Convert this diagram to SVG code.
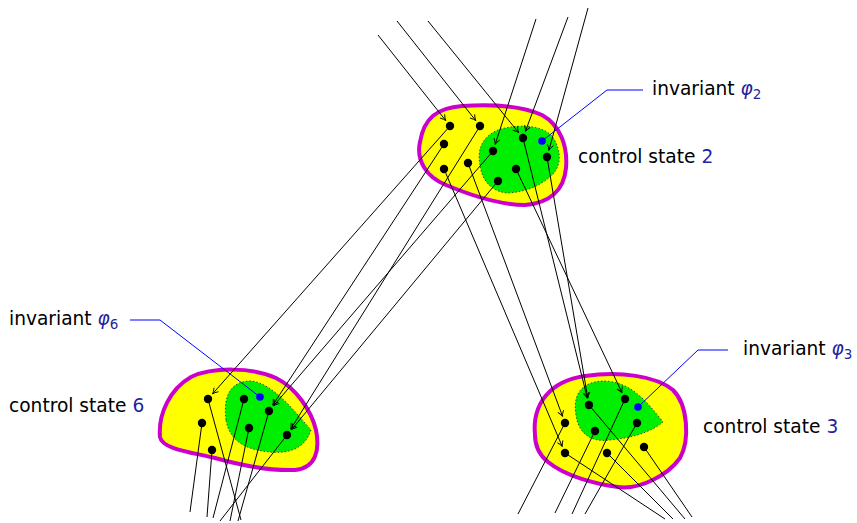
<svg xmlns="http://www.w3.org/2000/svg" width="857" height="523" viewBox="0 0 857 523">
<defs>
<marker id="arr" markerWidth="10" markerHeight="10" refX="0" refY="0" viewBox="-7 -5 9 10" orient="auto" markerUnits="userSpaceOnUse">
<path d="M-5.5,-3 Q-2,-0.5 0,0 Q-2,0.5 -5.5,3" fill="none" stroke="#000" stroke-width="0.9"/>
</marker>
</defs>
<style>
.outer{fill:#ffff00;stroke:#cc00cc;stroke-width:4}
.inner{fill:#00ee00;stroke:#1a4d1a;stroke-width:0.9;stroke-dasharray:1.5 2}
.dot{fill:#000}
.bdot{fill:#0000ff}
.e{stroke:#000;stroke-width:1;fill:none}
.ea{stroke:#000;stroke-width:1;fill:none;marker-end:url(#arr)}
.lead{stroke:#0000ff;stroke-width:1;fill:none}
text{font-family:"DejaVu Sans","Liberation Sans",sans-serif;font-size:18.6px;fill:#000}
.num{fill:#1f1fa0}
.phi{fill:#1f1fa0;font-style:italic}
.sub{fill:#1f1fa0;font-size:13.5px}
</style>

<g id="node-state2">
<path class="outer" d="M420,142 C424,118 437,108 462,106 C492,104 522,106 542,115 C560,125 568,146 566,168 C564,190 550,203 525,205 C500,205 470,195 446,185 C426,177 416,160 420,142 Z"/>
<path class="inner" d="M480,165 C476,146 486,132 505,128 C525,124 546,126 554,139 C561,151 562,166 551,176 C540,186 525,192 508,193 C492,192 482,181 480,165 Z"/>
</g>
<g id="node-state6">
<path class="outer" d="M160,437 C158,414 170,389 191,377 C212,367 252,367 276,378 C296,388 311,410 316,430 C320,450 316,468 295,470 C270,471 240,465 215,458 C190,452 162,449 160,437 Z"/>
<path class="inner" d="M226,420 C223,395 231,381 251,381 C272,383 293,409 311,430 C305,448 290,454 270,452 C250,450 230,444 226,420 Z"/>
</g>
<g id="node-state3">
<path class="outer" d="M535,435 C532,404 550,381 585,376 C620,371 656,376 673,390 C688,405 690,440 680,458 C668,475 640,490 618,487 C595,484 565,476 548,462 C538,454 535,445 535,435 Z"/>
<path class="inner" d="M576,415 C572,391 585,381 605,381 C630,382 646,400 663,422 C650,433 630,438 610,440 C590,443 578,432 576,415 Z"/>
</g>

<g id="connectors">
<line class="ea" x1="378" y1="35" x2="445.7" y2="120.5"/>
<line class="ea" x1="397" y1="21" x2="475.7" y2="120.5"/>
<line class="ea" x1="428" y1="21" x2="518.6" y2="132.6"/>
<line class="ea" x1="536" y1="19" x2="495.2" y2="144.3"/>
<line class="ea" x1="568" y1="17" x2="525.4" y2="131.4"/>
<line class="ea" x1="588" y1="8" x2="548.9" y2="150.3"/>
<line class="ea" x1="450" y1="126" x2="212.6" y2="393.8"/>
<line class="ea" x1="444" y1="144" x2="272.8" y2="405.1"/>
<line class="ea" x1="493" y1="151" x2="273.6" y2="405.7"/>
<line class="ea" x1="480" y1="126" x2="290.7" y2="429.1"/>
<line class="ea" x1="498" y1="181" x2="291.5" y2="429.6"/>
<line class="ea" x1="444" y1="169" x2="562.3" y2="446.6"/>
<line class="ea" x1="468" y1="163" x2="562.6" y2="416.4"/>
<line class="ea" x1="523" y1="138" x2="587.3" y2="398.2"/>
<line class="ea" x1="547" y1="157" x2="587.8" y2="398.1"/>
<line class="ea" x1="516" y1="169" x2="622" y2="392.7"/>
<line class="e" x1="202" y1="423" x2="190" y2="512"/>
<line class="e" x1="212" y1="450" x2="207" y2="517"/>
<line class="e" x1="244" y1="399" x2="213" y2="518"/>
<line class="e" x1="249" y1="428" x2="230" y2="521"/>
<line class="e" x1="269" y1="411" x2="238" y2="521"/>
<line class="e" x1="287" y1="435" x2="220" y2="521"/>
<line class="e" x1="208" y1="399" x2="241" y2="520"/>
<line class="e" x1="565" y1="423" x2="518" y2="514"/>
<line class="e" x1="595" y1="431" x2="555" y2="513"/>
<line class="e" x1="625" y1="399" x2="572" y2="514"/>
<line class="e" x1="637" y1="423" x2="585" y2="514"/>
<line class="e" x1="565" y1="453" x2="665" y2="519"/>
<line class="e" x1="607" y1="453" x2="673" y2="519"/>
<line class="e" x1="589" y1="405" x2="685" y2="519"/>
<line class="e" x1="644" y1="447" x2="692" y2="517"/>
<polyline class="lead" points="542,141 607,90 643,90"/>
<polyline class="lead" points="130,320 160,320 260,397"/>
<polyline class="lead" points="728,350 698,350 638,407"/>
</g>

<g id="dots-state2">
<circle class="dot" cx="450" cy="126" r="4.2"/>
<circle class="dot" cx="480" cy="126" r="4.2"/>
<circle class="dot" cx="444" cy="144" r="4.2"/>
<circle class="dot" cx="444" cy="169" r="4.2"/>
<circle class="dot" cx="468" cy="163" r="4.2"/>
<circle class="dot" cx="493" cy="151" r="4.2"/>
<circle class="dot" cx="523" cy="138" r="4.2"/>
<circle class="dot" cx="547" cy="157" r="4.2"/>
<circle class="dot" cx="516" cy="169" r="4.2"/>
<circle class="dot" cx="498" cy="181" r="4.2"/>
<circle class="bdot" cx="542" cy="141" r="3.8"/>
</g>
<g id="dots-state6">
<circle class="dot" cx="208" cy="399" r="4.2"/>
<circle class="dot" cx="244" cy="399" r="4.2"/>
<circle class="dot" cx="269" cy="411" r="4.2"/>
<circle class="dot" cx="202" cy="423" r="4.2"/>
<circle class="dot" cx="249" cy="428" r="4.2"/>
<circle class="dot" cx="287" cy="435" r="4.2"/>
<circle class="dot" cx="212" cy="450" r="4.2"/>
<circle class="bdot" cx="260" cy="397" r="3.8"/>
</g>
<g id="dots-state3">
<circle class="dot" cx="589" cy="405" r="4.2"/>
<circle class="dot" cx="625" cy="399" r="4.2"/>
<circle class="dot" cx="565" cy="423" r="4.2"/>
<circle class="dot" cx="595" cy="431" r="4.2"/>
<circle class="dot" cx="637" cy="423" r="4.2"/>
<circle class="dot" cx="565" cy="453" r="4.2"/>
<circle class="dot" cx="607" cy="453" r="4.2"/>
<circle class="dot" cx="644" cy="447" r="4.2"/>
<circle class="bdot" cx="638" cy="407" r="3.8"/>
</g>

<g id="label-state2">
<text x="652" y="95">invariant <tspan class="phi">φ</tspan><tspan class="sub" dy="4">2</tspan></text>
<text x="578" y="163">control state <tspan class="num">2</tspan></text>
</g>
<g id="label-state6">
<text x="9" y="325">invariant <tspan class="phi">φ</tspan><tspan class="sub" dy="4">6</tspan></text>
<text x="9" y="412">control state <tspan class="num">6</tspan></text>
</g>
<g id="label-state3">
<text x="743" y="355">invariant <tspan class="phi">φ</tspan><tspan class="sub" dy="4">3</tspan></text>
<text x="703" y="433">control state <tspan class="num">3</tspan></text>
</g>
</svg>
